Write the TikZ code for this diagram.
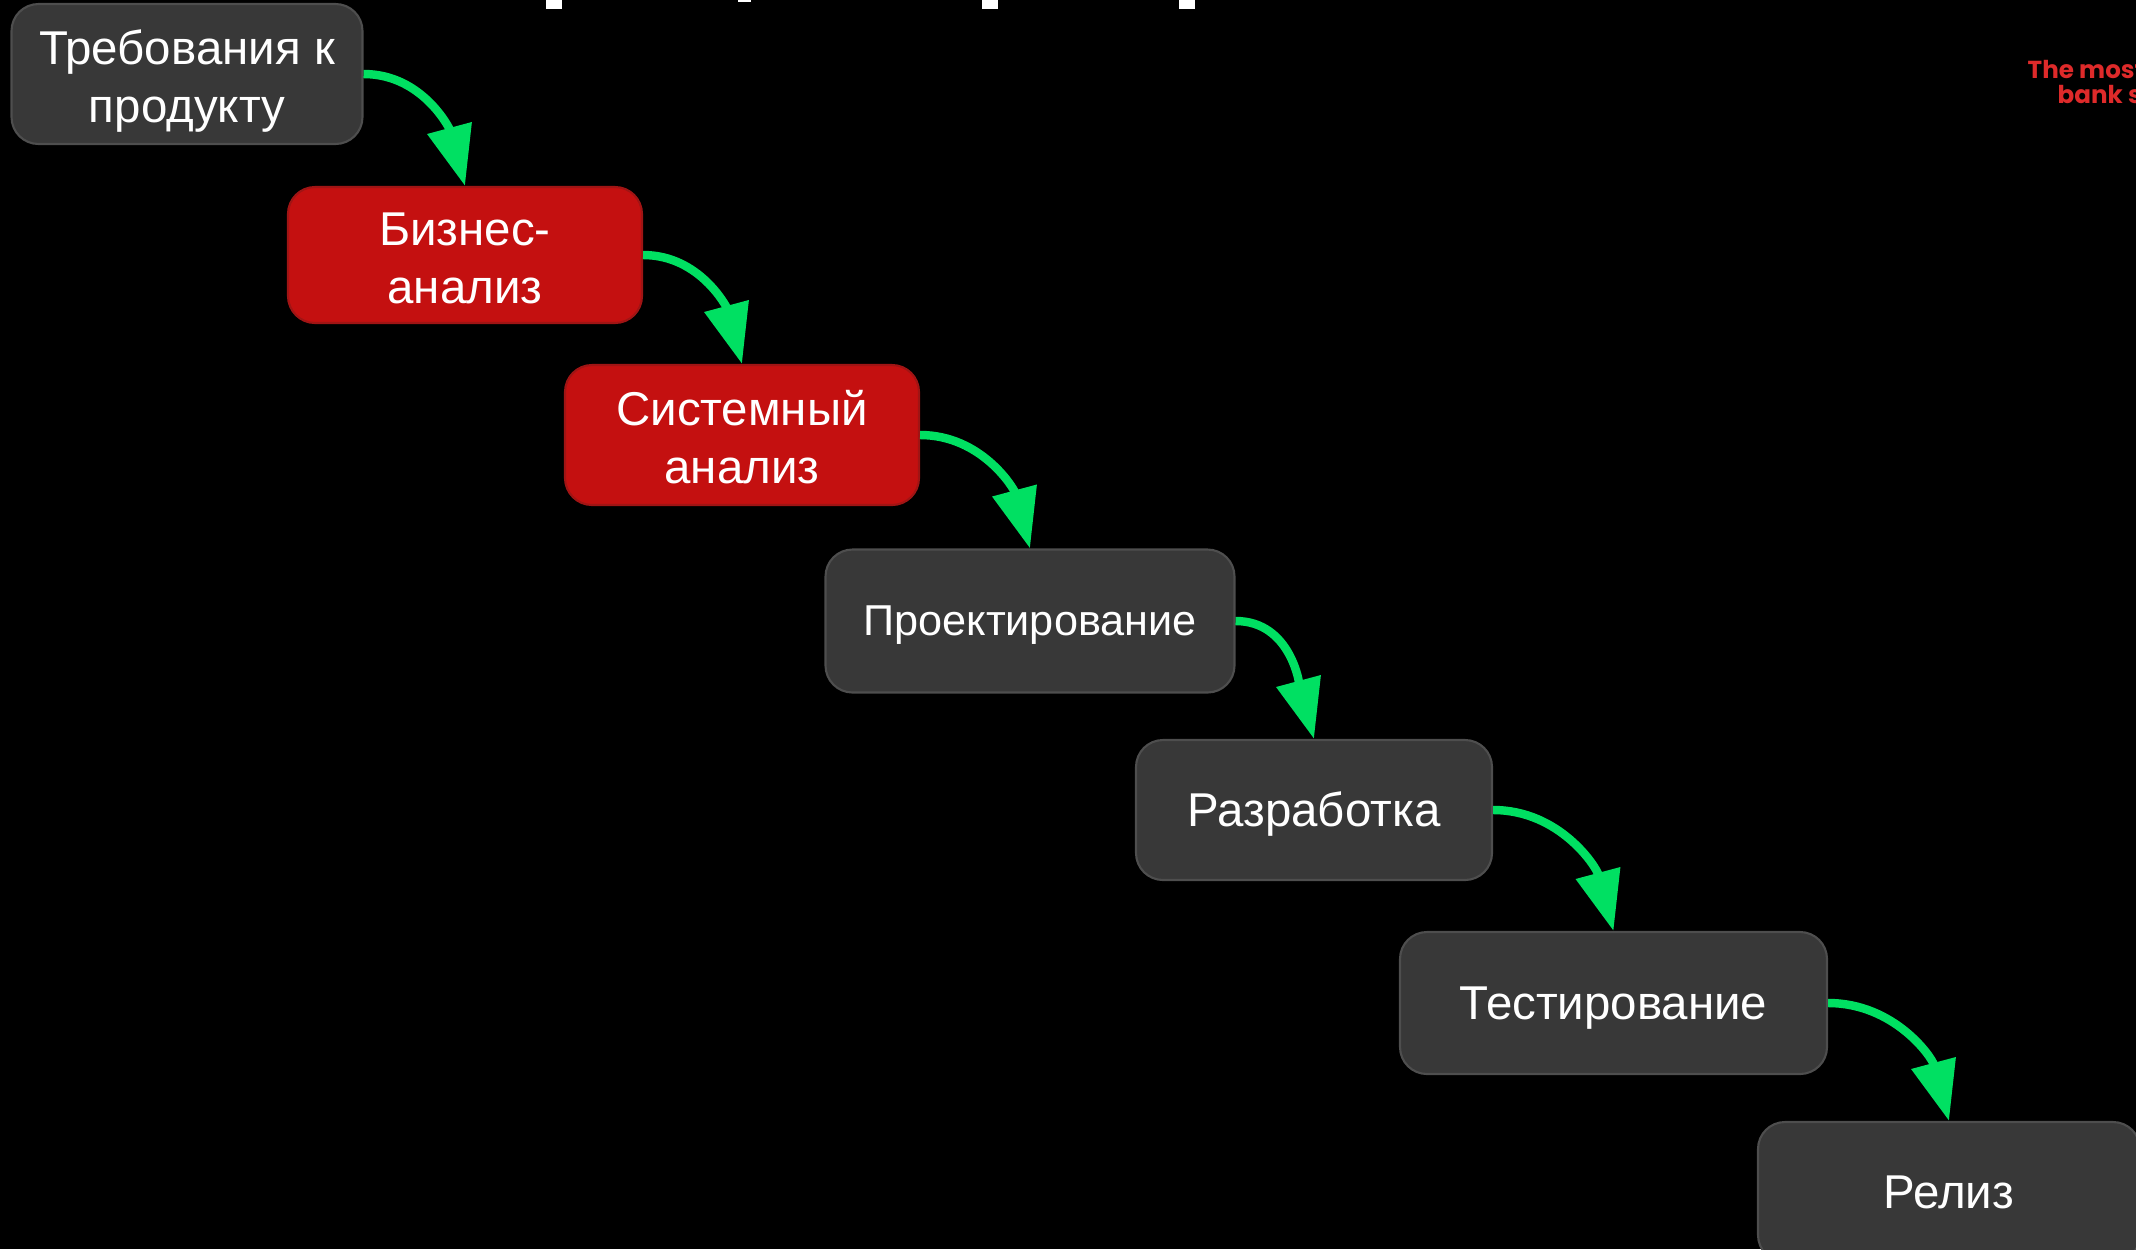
\documentclass[tikz,border=0pt]{standalone}
\usepackage{fontspec}
\setmainfont{Liberation Sans}
\newfontfamily\tagfont{Poppins}
\usetikzlibrary{arrows.meta}

\definecolor{boxgray}{RGB}{56,56,56}
\definecolor{boxedge}{RGB}{78,78,78}
\definecolor{boxred}{RGB}{196,16,16}
\definecolor{redge}{RGB}{160,20,20}
\definecolor{flowgreen}{RGB}{0,224,98}
\definecolor{tagred}{RGB}{222,42,42}

\tikzset{
	stage/.style={draw=boxedge, line width=0.6pt, fill=boxgray, rounded corners=0.27cm,
		text=white, align=center, font=\fontsize{13.5}{16.2}\selectfont, inner sep=0pt,
		text height=12.22pt, text depth=2.86pt},
	twoline/.style={font=\fontsize{13.5}{16.6}\selectfont, text height=30.72pt},
	hot/.style={stage, draw=redge, fill=boxred},
	flow/.style={draw=flowgreen, line width=2.4pt, -{Triangle[length=0.6cm, width=0.44cm]}},
	tag/.style={text=tagred, inner sep=0pt, font=\tagfont\bfseries\fontsize{7}{8}\selectfont}
}

\begin{document}
\begin{tikzpicture}
		%%%%% START %%%%%
		
		\fill[black] (0, 0) rectangle (21.36, -12.49);
		\useasboundingbox (0, 0) rectangle (21.36, -12.49);
		
		% title cut off at the top edge
		\fill[white] (5.46, 0) rectangle (5.62, -0.09);
		\fill[white] (7.38, 0) rectangle (7.51, -0.02);
		\fill[white] (9.82, 0) rectangle (9.98, -0.09);
		\fill[white] (11.79, 0) rectangle (11.95, -0.09);
		
		\node[tag, anchor=base west] (tagA) at (20.27, -0.78) {The most};
		\node[tag, anchor=base west] (tagB) at (20.57, -1.03) {bank s};
		
		\node[stage, twoline, minimum width=3.51cm, minimum height=1.40cm] (req) at (1.87, -0.74) {Требования к\\продукту};
		\node[hot, twoline, minimum width=3.54cm, minimum height=1.36cm] (ba) at (4.65, -2.55) {Бизнес-\\анализ};
		\node[hot, twoline, minimum width=3.54cm, minimum height=1.40cm] (sa) at (7.42, -4.35) {Системный\\анализ};
		\node[stage, minimum width=4.09cm, minimum height=1.43cm, font=\fontsize{12.3}{15}\selectfont,
			text height=11.13pt, text depth=2.61pt] (design) at (10.30, -6.21) {Проектирование};
		\node[stage, minimum width=3.56cm, minimum height=1.40cm] (dev) at (13.14, -8.10) {Разработка};
		\node[stage, minimum width=4.27cm, minimum height=1.42cm] (test) at (16.135, -10.03) {Тестирование};
		\node[stage, minimum width=3.82cm, minimum height=1.40cm] (rel) at (19.49, -11.92) {Релиз};
		
		\draw[flow] (req.east) to[out=0, in=105] (ba.north);
		\draw[flow] (ba.east) to[out=0, in=105] (sa.north);
		\draw[flow] (sa.east) to[out=0, in=105] (design.north);
		\draw[flow] (design.east) to[out=0, in=105] (dev.north);
		\draw[flow] (dev.east) to[out=0, in=105] (test.north);
		\draw[flow] (test.east) to[out=0, in=105] (rel.north);
		
		%%%%% END %%%%%
	\end{tikzpicture}
\end{document}
